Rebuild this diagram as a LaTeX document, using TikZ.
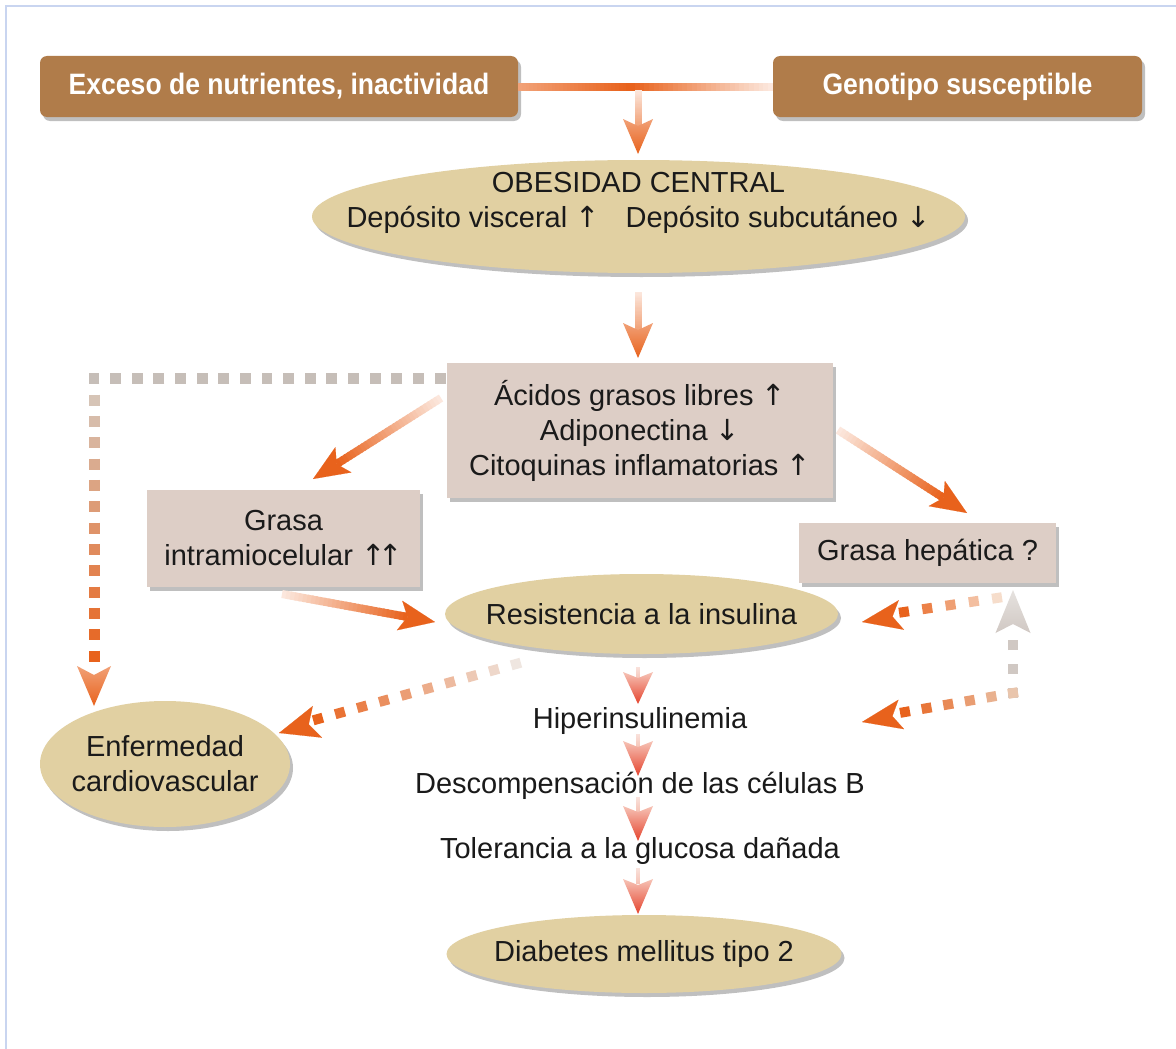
\documentclass[tikz,border=0pt]{standalone}
\usepackage{fontspec}
\setmainfont{Liberation Sans}
\newfontfamily\arrfont{DejaVu Sans}
\newfontfamily\headfont[FakeStretch=0.9]{Liberation Sans}
\usetikzlibrary{arrows.meta,shapes.geometric,calc,shadows}

\definecolor{boxbrown}{HTML}{B07C4A}
\definecolor{tanfill}{HTML}{E1D0A2}
\definecolor{pinkgrey}{HTML}{DDCEC6}
\definecolor{ora}{HTML}{E8621C}
\definecolor{txtc}{HTML}{1A1A1A}
\definecolor{frameblue}{HTML}{C9D5F0}
\definecolor{dgrey}{HTML}{C6BEB8}
\definecolor{tanstart}{HTML}{D6C4B6}
\definecolor{ltgrey}{HTML}{EFE6E0}
\definecolor{peachA}{HTML}{F6DDCB}
\definecolor{peachB}{HTML}{E9C5AC}
\definecolor{upback}{HTML}{D0C8C3}
\definecolor{uptip}{HTML}{E6E2DF}
\definecolor{pinkshaft}{HTML}{F9E2DC}
\definecolor{pinkback}{HTML}{F6C3B6}
\definecolor{redc}{HTML}{E5432D}
\colorlet{oraL}{ora!60!white}
\colorlet{oraVL}{ora!15!white}
\colorlet{oraM}{ora!60!white}

\newcommand\myup{{\arrfont ↑}}
\newcommand\mydown{{\arrfont ↓}}
\newcommand\bodyfont{\fontsize{29}{35}\selectfont}

% gradient line from #1 to #2, colour #3 -> #4, width #5
\newcommand\gline[5]{%
  \foreach \gi in {0,...,29}{%
    \pgfmathsetmacro\gfa{\gi/30}%
    \pgfmathsetmacro\gfb{min(1,(\gi+1.5)/30)}%
    \pgfmathtruncatemacro\gpc{\gi*100/29}%
    \draw[line width=#5,draw=#4!\gpc!#3] ($(#1)!\gfa!(#2)$) -- ($(#1)!\gfb!(#2)$);
  }}
% solid stealth tip at #2 coming from #1
\newcommand\tipS[4]{\draw[line width=0.1pt,draw=#3,fill=#3,-{Stealth[#4]}] ($(#2)!1pt!(#1)$) -- (#2);}
% shaded vertical heads: tip, length, width, inset, back colour, tip colour
\newcommand\vhead[6]{\shade[top color=#5,bottom color=#6] (#1) -- ++(-#3/2,-#2) -- ++(#3/2,#4) -- ++(#3/2,-#4) -- cycle;}
\newcommand\uhead[6]{\shade[top color=#6,bottom color=#5] (#1) -- ++(-#3/2,#2) -- ++(#3/2,-#4) -- ++(#3/2,#4) -- cycle;}
% square dashes from #1 to #2, colour #3 -> #4, thickness #5, count #6, dash length #7
\newcommand\gdash[7]{%
  \path (#1) coordinate (gd-a) (#2) coordinate (gd-b);
  \pgfpointdiff{\pgfpointanchor{gd-a}{center}}{\pgfpointanchor{gd-b}{center}}%
  \pgfgetlastxy{\gdx}{\gdy}%
  \pgfmathsetmacro\gdL{veclen(\gdx,\gdy)}%
  \pgfmathsetmacro\gdh{#7/2/\gdL}%
  \pgfmathtruncatemacro\gdn{#6-1}%
  \foreach \gi in {0,...,\gdn}{%
    \pgfmathsetmacro\gfc{\gi/\gdn}%
    \pgfmathsetmacro\gfa{\gfc-\gdh}%
    \pgfmathsetmacro\gfb{\gfc+\gdh}%
    \pgfmathtruncatemacro\gpc{\gi*100/\gdn}%
    \draw[line width=#5,draw=#4!\gpc!#3] ($(gd-a)!\gfa!(gd-b)$) -- ($(gd-a)!\gfb!(gd-b)$);
  }}

\tikzset{
  shad/.style={drop shadow={shadow xshift=3pt,shadow yshift=-4pt,opacity=0.25,fill=black}},
  brownbox/.style={rectangle,rounded corners=7pt,fill=boxbrown,text=white,inner sep=0pt,
     font=\headfont\bfseries\fontsize{29.5}{34}\selectfont,shad},
  tanell/.style={ellipse,fill=tanfill,inner xsep=-200pt,inner ysep=-80pt,align=center,font=\bodyfont,text=txtc,shad},
  pbox/.style={rectangle,fill=pinkgrey,inner sep=0pt,align=center,font=\bodyfont,text=txtc,shad},
  txt/.style={inner sep=1pt,font=\bodyfont,text=txtc,align=center},
}

\begin{document}
\begin{tikzpicture}[x=1pt,y=-1pt]
\useasboundingbox (0,0) rectangle (1176,1049);
\fill[white] (0,0) rectangle (1176,1049);
\draw[frameblue,line width=2.5pt] (6,1049) -- (6,6) -- (1176,6);

% ---------- nodes ----------
\node[brownbox,minimum width=478pt,minimum height=61pt] (exceso) at (279,86.5) {Exceso de nutrientes, inactividad};
\node[brownbox,minimum width=369pt,minimum height=61pt] (geno) at (957.5,86.5) {Genotipo susceptible};
\node[tanell,minimum width=653pt,minimum height=113pt] (obes) at (638.5,216.5) {};
\node[txt] (obestext) at (638.5,203) {OBESIDAD CENTRAL\\Depósito visceral \myup\hspace{26pt}Depósito subcutáneo \mydown};
\node[pbox,minimum width=386pt,minimum height=135pt] (acid) at (640,430.5) {Ácidos grasos libres \myup\\Adiponectina \mydown\\Citoquinas inflamatorias \myup};
\node[pbox,minimum width=273pt,minimum height=97pt] (gim) at (283.5,538.5) {Grasa\\intramiocelular \myup\kern-7pt\myup};
\node[pbox,minimum width=257pt,minimum height=60pt] (ghep) at (927.5,553) {Grasa hepática ?};
\node[tanell,minimum width=393pt,minimum height=80pt] (resis) at (641.5,614) {Resistencia a la insulina};
\node[tanell,minimum width=250pt,minimum height=126pt] (ecv) at (165,764) {Enfermedad\\cardiovascular};
\node[txt] (hiper) at (640,721) {Hiperinsulinemia};
\node[txt] (desc) at (640,786) {Descompensación de las células B};
\node[txt] (tol) at (640,851) {Tolerancia a la glucosa dañada};
\node[tanell,minimum width=395pt,minimum height=78pt] (dm) at (644,954) {Diabetes mellitus tipo 2};

% ---------- top connector ----------
\coordinate (jn) at (630,87);
\coordinate (ex-e) at ($(exceso.east)+(0,0.5)$);
\coordinate (ge-w) at ($(geno.west)+(0,0.5)$);
\gline{ex-e}{jn}{oraL}{ora}{8pt}
\gline{ge-w}{jn}{oraVL}{ora}{8pt}
\coordinate (d1s) at (638,90);
\coordinate (d1m) at (638,126);
\coordinate (d1t) at (638,154);
\gline{d1s}{d1m}{oraVL}{oraM}{7pt}
\vhead{d1t}{35}{30}{7}{oraM}{ora}

% obesidad -> acidos
\coordinate (d2s) at (638,292);
\coordinate (d2m) at (638,330);
\coordinate (d2t) at (638,358);
\gline{d2s}{d2m}{oraVL}{oraM}{7pt}
\vhead{d2t}{35}{30}{7}{oraM}{ora}

% acidos -> grasa intramiocelular
\coordinate (a1s) at (441,398);
\coordinate (a1t) at (313,479);
\coordinate (a1m) at ($(a1t)!28pt!(a1s)$);
\gline{a1s}{a1m}{oraVL}{ora}{8pt}
\tipS{a1s}{a1t}{ora}{length=36pt,width=30pt,inset=8pt}

% grasa intramiocelular -> resistencia
\coordinate (a2s) at (282,594);
\coordinate (a2t) at (435,622);
\coordinate (a2m) at ($(a2t)!28pt!(a2s)$);
\gline{a2s}{a2m}{oraVL}{ora}{8pt}
\tipS{a2s}{a2t}{ora}{length=36pt,width=30pt,inset=8pt}

% acidos -> grasa hepatica
\coordinate (a3s) at (838,430);
\coordinate (a3t) at (967,513);
\coordinate (a3m) at ($(a3t)!28pt!(a3s)$);
\gline{a3s}{a3m}{oraVL}{ora}{8pt}
\tipS{a3s}{a3t}{ora}{length=36pt,width=30pt,inset=8pt}

% ---------- dotted L path: acidos -> enfermedad cardiovascular ----------
\coordinate (l0) at (440,378);
\coordinate (l1) at (94,378);
\coordinate (l2) at (94,400);
\coordinate (l3) at (94,656);
\coordinate (l4) at (94,706);
\gdash{l0}{l1}{dgrey}{dgrey}{11pt}{17}{11}
\gdash{l2}{l3}{tanstart}{ora}{11pt}{13}{11}
\vhead{l4}{40}{34}{9}{oraM}{ora}

% resistencia -> enfermedad cardiovascular
\coordinate (e0) at (516,664);
\coordinate (e1) at (318,719);
\coordinate (e2) at (279,733);
\gdash{e0}{e1}{ltgrey}{ora}{10pt}{10}{10}
\tipS{e0}{e2}{ora}{length=40pt,width=33pt,inset=9pt}

% grasa hepatica -> resistencia
\coordinate (h0) at (997,598);
\coordinate (h1) at (904,612);
\coordinate (h2) at (862,622);
\gdash{h0}{h1}{peachA}{ora}{10pt}{5}{10}
\tipS{h0}{h2}{ora}{length=40pt,width=30pt,inset=9pt}

% hiperinsulinemia <-> grasa hepatica
\coordinate (k0) at (1013,693);
\coordinate (k1) at (1013,645);
\coordinate (k2) at (1013,590);
\gdash{k0}{k1}{upback}{upback}{10pt}{3}{10}
\uhead{k2}{43}{35}{9}{upback}{uptip}
\coordinate (k3) at (905,712);
\coordinate (k4) at (862,722);
\gdash{k0}{k3}{peachB}{ora}{10pt}{6}{10}
\tipS{k0}{k4}{ora}{length=40pt,width=30pt,inset=9pt}

% ---------- chain arrows ----------
\coordinate (c1s) at (638,667);
\coordinate (c1m) at (638,680);
\coordinate (c1t) at (638,704);
\gline{c1s}{c1m}{pinkshaft}{pinkback}{4pt}
\vhead{c1t}{32}{30}{6}{pinkback}{redc}

\coordinate (c2s) at (638,734);
\coordinate (c2m) at (638,748);
\coordinate (c2t) at (638,776);
\gline{c2s}{c2m}{pinkshaft}{pinkback}{4pt}
\vhead{c2t}{35}{30}{6}{pinkback}{redc}

\coordinate (c3s) at (638,797);
\coordinate (c3m) at (638,812);
\coordinate (c3t) at (638,841);
\gline{c3s}{c3m}{pinkshaft}{pinkback}{4pt}
\vhead{c3t}{35}{30}{6}{pinkback}{redc}

\coordinate (c4s) at (638,868);
\coordinate (c4m) at (638,884);
\coordinate (c4t) at (638,914);
\gline{c4s}{c4m}{pinkshaft}{pinkback}{4pt}
\vhead{c4t}{35}{30}{6}{pinkback}{redc}
\end{tikzpicture}
\end{document}
